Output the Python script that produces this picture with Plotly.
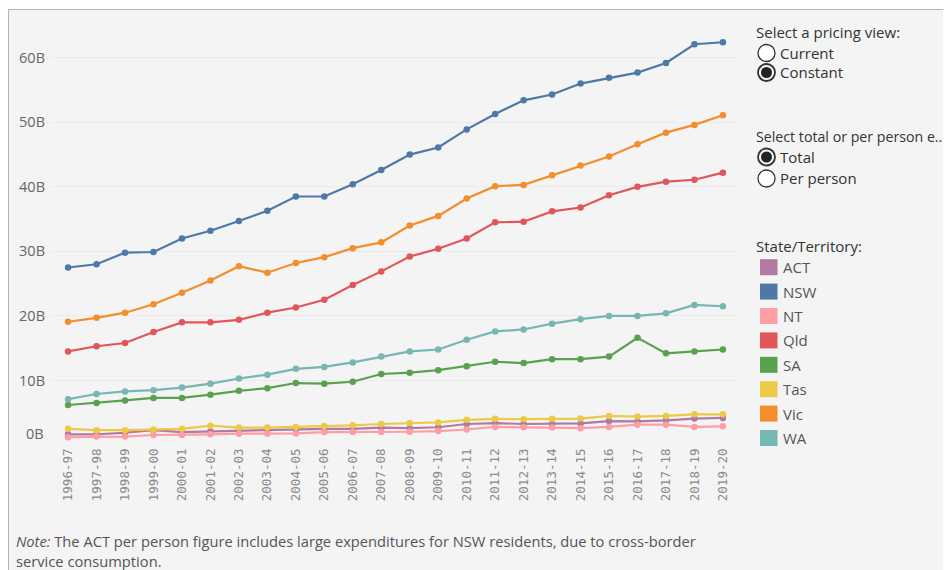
import plotly.graph_objects as go

years = ["1996-97","1997-98","1998-99","1999-00","2000-01","2001-02","2002-03","2003-04",
         "2004-05","2005-06","2006-07","2007-08","2008-09","2009-10","2010-11","2011-12",
         "2012-13","2013-14","2014-15","2015-16","2016-17","2017-18","2018-19","2019-20"]

act = [1.65,1.65,1.9,2.3,2.0,2.1,2.3,2.4,2.4,2.5,2.5,2.7,2.6,2.75,3.25,3.4,3.25,3.25,3.35,3.7,3.65,3.8,4.1,4.2]
nsw = [27.5,28.0,29.8,29.9,32.0,33.2,34.7,36.3,38.5,38.5,40.4,42.6,45.0,46.1,48.9,51.3,53.4,54.3,56.0,56.9,57.7,59.2,62.1,62.4]
nt  = [1.2,1.3,1.3,1.55,1.55,1.65,1.75,1.75,1.8,2.0,2.0,2.0,2.05,2.15,2.4,2.8,2.75,2.7,2.6,2.8,3.15,3.15,2.8,2.9]
qld = [14.5,15.3,15.8,17.5,19.0,19.0,19.4,20.5,21.3,22.5,24.8,26.9,29.2,30.4,32.0,34.5,34.6,36.2,36.8,38.7,40.0,40.8,41.1,42.2]
sa  = [6.2,6.5,6.9,7.3,7.3,7.8,8.4,8.8,9.6,9.5,9.8,11.0,11.2,11.6,12.2,12.9,12.7,13.3,13.3,13.7,16.6,14.2,14.5,14.8]
tas = [2.5,2.3,2.3,2.4,2.5,3.0,2.7,2.7,2.8,2.95,3.05,3.25,3.4,3.5,3.9,4.05,4.0,4.05,4.1,4.5,4.4,4.5,4.75,4.75]
vic = [19.1,19.7,20.5,21.8,23.6,25.5,27.7,26.7,28.2,29.1,30.5,31.4,34.0,35.5,38.2,40.1,40.3,41.8,43.3,44.7,46.6,48.4,49.6,51.1]
wa  = [7.1,7.9,8.3,8.5,8.9,9.5,10.3,10.9,11.8,12.1,12.8,13.7,14.5,14.8,16.3,17.6,17.9,18.8,19.5,20.0,20.0,20.4,21.7,21.5]

series_names = ["ACT","NSW","NT","Qld","SA","Tas","Vic","WA"]
series_values = [act, nsw, nt, qld, sa, tas, vic, wa]
series_colors = ["#b07aa1","#4e79a7","#ff9da7","#e15759","#59a14f","#edc948","#f28e2b","#76b7b2"]
y_ticks = [10, 20, 30, 40, 50, 60]
y_tick_text = ["10B", "20B", "30B", "40B", "50B", "60B"]

# page body has an 8px margin: work in window coordinates, convert to figure coordinates
OFF = 8
W, H = 951 - OFF, 570 - OFF
PL, PR, PT, PB = 51 - OFF, 740 - OFF, 10 - OFF, 445 - OFF
FONT = "Open Sans"

def px(x):
    return (x - OFF - PL) / (PR - PL)

def py(y):
    return (PB - (y - OFF)) / (PB - PT)

fig = go.Figure()
for name, vals, col in zip(series_names, series_values, series_colors):
    fig.add_trace(go.Scatter(
        x=years, y=vals, name=name, mode="lines+markers",
        line=dict(color=col, width=2.2),
        marker=dict(color=col, size=6.5),
        showlegend=False,
    ))

shapes = []
annotations = []

# frame / background
shapes.append(dict(type="rect", xref="paper", yref="paper",
                   x0=px(8.5), x1=px(965), y0=py(9.5), y1=py(600),
                   fillcolor="#f4f4f4", line=dict(color="#b3b3b3", width=1), layer="below"))

# 0B label (Tableau nudges it inside the axis)
annotations.append(dict(x=0, y=0, xref="paper", yref="y", text="0B", showarrow=False,
                        xanchor="right", yanchor="middle", xshift=-5, yshift=12,
                        font=dict(family=FONT, size=14.5, color="#666666")))

def text(x, y, s, size=15, color="#333333"):
    annotations.append(dict(x=px(x), y=py(y), xref="paper", yref="paper", text=s,
                            showarrow=False, xanchor="left", yanchor="middle",
                            font=dict(family=FONT, size=size, color=color)))

def radio(cx, cy, selected):
    r = 8.5
    shapes.append(dict(type="circle", xref="paper", yref="paper",
                       x0=px(cx - r), x1=px(cx + r), y0=py(cy + r), y1=py(cy - r),
                       fillcolor="#ffffff" if not selected else "#f4f4f4",
                       line=dict(color="#333333", width=1.3 if not selected else 1.8)))
    if selected:
        ri = 5.5
        shapes.append(dict(type="circle", xref="paper", yref="paper",
                           x0=px(cx - ri), x1=px(cx + ri), y0=py(cy + ri), y1=py(cy - ri),
                           fillcolor="#222222", line=dict(color="#222222", width=0)))

text(754, 32, "Select a pricing view:")
radio(766.5, 53, False); text(778, 52.5, "Current")
radio(766.5, 72.5, True); text(778, 72, "Constant")
text(754, 136, "Select total or per person e..", size=14.2)
radio(766.5, 157, True); text(778, 156.5, "Total")
radio(766.5, 178.5, False); text(778, 178, "Per person")

text(754, 246, "State/Territory:")
for i, (name, col) in enumerate(zip(series_names, series_colors)):
    cy = 267.2 + i * 24.4
    shapes.append(dict(type="rect", xref="paper", yref="paper",
                       x0=px(760), x1=px(777.5), y0=py(cy + 8), y1=py(cy - 8),
                       fillcolor=col, line=dict(width=0)))
    text(781, cy, name, size=15, color="#555555")

text(14, 541, "<i>Note:</i> The ACT per person figure includes large expenditures for NSW residents, due to cross-border",
     size=14.7, color="#555555")
text(14, 561, "service consumption.", size=14.7, color="#555555")

fig.update_layout(
    width=W, height=H,
    margin=dict(l=PL, r=W - PR, t=PT, b=H - PB, pad=0),
    paper_bgcolor="#ffffff",
    plot_bgcolor="rgba(0,0,0,0)",
    shapes=shapes,
    annotations=annotations,
    showlegend=False,
    xaxis=dict(type="category", range=[-0.6, 23.6], tickangle=-90, showgrid=False,
               zeroline=False, showline=False, ticks="",
               tickfont=dict(family="DejaVu Sans Mono", size=12.5, color="#8a8a8a"),
               fixedrange=True),
    yaxis=dict(range=[0, 67.4], tickvals=y_ticks, ticktext=y_tick_text, showgrid=True,
               gridcolor="#ebebeb", gridwidth=1, zeroline=False, showline=False, ticks="",
               ticklabelstandoff=5,
               tickfont=dict(family=FONT, size=14.5, color="#666666"), fixedrange=True),
)

fig.write_html("out.html")
